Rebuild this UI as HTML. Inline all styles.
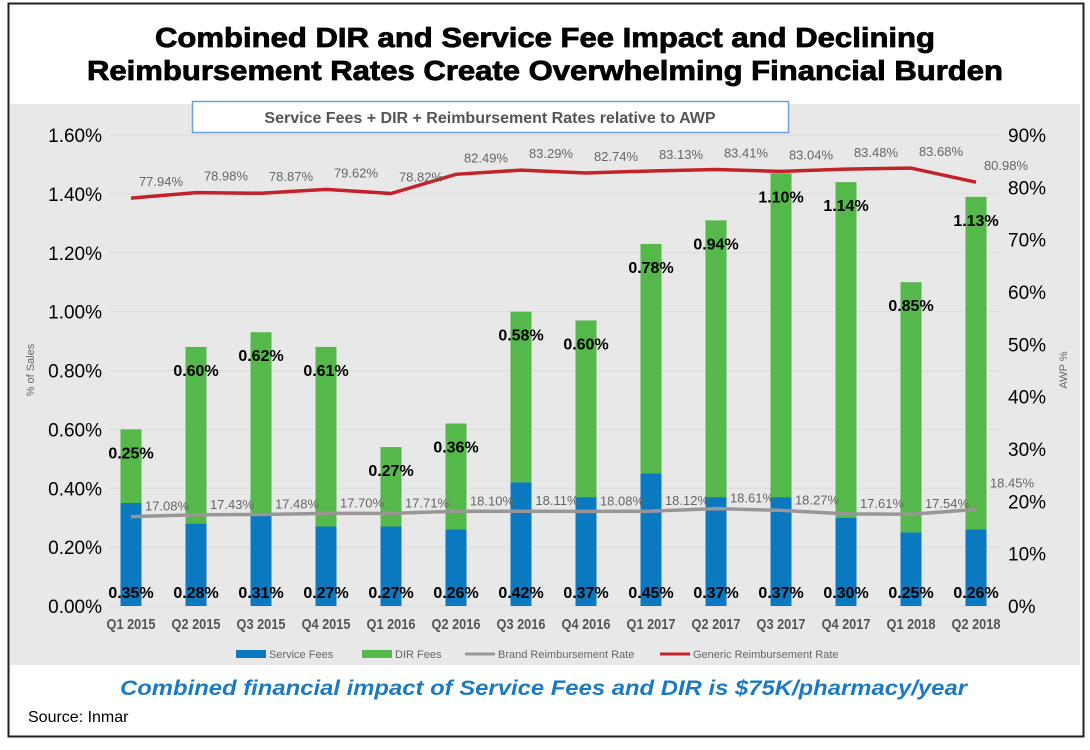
<!DOCTYPE html>
<html><head><meta charset="utf-8"><style>
body{margin:0;background:#fff;width:1090px;height:745px;overflow:hidden;font-family:"Liberation Sans",sans-serif}
</style></head><body>
<svg width="1090" height="745" id="svg" xmlns="http://www.w3.org/2000/svg">
<rect x="8.5" y="3.5" width="1075" height="733" fill="#fff" stroke="#222" stroke-width="2"/>
<text x="155" y="47" textLength="780" lengthAdjust="spacingAndGlyphs" font-size="28" font-weight="bold" stroke="#000" stroke-width="0.8">Combined DIR and Service Fee Impact and Declining</text>
<text x="87" y="80" textLength="916" lengthAdjust="spacingAndGlyphs" font-size="28" font-weight="bold" stroke="#000" stroke-width="0.8">Reimbursement Rates Create Overwhelming Financial Burden</text>
<rect x="10" y="104" width="1070" height="561" fill="#e8e8e8"/>
<rect x="192.5" y="101.5" width="596" height="31" fill="#fff" stroke="#6f9fd8" stroke-width="1.5"/>
<text x="490" y="123" text-anchor="middle" font-size="16" font-weight="bold" fill="#555">Service Fees + DIR + Reimbursement Rates relative to AWP</text>
<g id="g"></g>
<text x="120" y="695" textLength="847" lengthAdjust="spacingAndGlyphs" font-size="21" font-weight="bold" font-style="italic" fill="#1b7ac2">Combined financial impact of Service Fees and DIR is $75K/pharmacy/year</text>
<text x="28" y="722" font-size="16">Source: Inmar</text>
</svg>
<script>
const categories=["Q1 2015","Q2 2015","Q3 2015","Q4 2015","Q1 2016","Q2 2016","Q3 2016","Q4 2016","Q1 2017","Q2 2017","Q3 2017","Q4 2017","Q1 2018","Q2 2018"];
const serviceFees=[0.35,0.28,0.31,0.27,0.27,0.26,0.42,0.37,0.45,0.37,0.37,0.30,0.25,0.26];
const dirFees=[0.25,0.60,0.62,0.61,0.27,0.36,0.58,0.60,0.78,0.94,1.10,1.14,0.85,1.13];
const brandRate=[17.08,17.43,17.48,17.70,17.71,18.10,18.11,18.08,18.12,18.61,18.27,17.61,17.54,18.45];
const genericRate=[77.94,78.98,78.87,79.62,78.82,82.49,83.29,82.74,83.13,83.41,83.04,83.48,83.68,80.98];
const leftTicks=[0,0.2,0.4,0.6,0.8,1.0,1.2,1.4,1.6];
const rightTicks=[0,10,20,30,40,50,60,70,80,90];
const NS="http://www.w3.org/2000/svg",g=document.getElementById('g');
const y0=606,y1=135;
const yL=v=>y0-v/1.6*(y0-y1), yR=v=>y0-v/90*(y0-y1), x=i=>131+i*65;
function mk(t,a,txt){const e=document.createElementNS(NS,t);for(const k in a)e.setAttribute(k,a[k]);if(txt!=null)e.textContent=txt;g.appendChild(e);return e;}
leftTicks.forEach(v=>{
 const l=mk('line',{x1:110,x2:1000,y1:yL(v),y2:yL(v),stroke:'#dcdcdc'});
 
 const t=mk('text',{x:102,y:yL(v)+7,'text-anchor':'end','font-size':19},v.toFixed(2)+'%');
 
});
rightTicks.forEach(v=>{
 const t=mk('text',{x:1008,y:yR(v)+7,'font-size':19},v+'%');
 
});
let t=mk('text',{x:0,y:0,'font-size':11,fill:'#666','text-anchor':'middle',transform:'translate(34,370) rotate(-90)'},'% of Sales');

t=mk('text',{x:0,y:0,'font-size':11,fill:'#666','text-anchor':'middle',transform:'translate(1067,370) rotate(-90)'},'AWP %');

categories.forEach((c,i)=>{
 const s=serviceFees[i],d=dirFees[i],cx=x(i);
 let r=mk('rect',{x:cx-10.5,y:yL(s),width:21,height:y0-yL(s),fill:'#0a79c0'});
 
 r=mk('rect',{x:cx-10.5,y:yL(s+d),width:21,height:yL(s)-yL(s+d),fill:'#55b84a'});
 
 let l=mk('text',{x:cx,y:598,'text-anchor':'middle','font-size':16,'font-weight':'bold'},s.toFixed(2)+'%');
 
 l=mk('text',{x:cx,y:yL(s+d)+29,'text-anchor':'middle','font-size':16,'font-weight':'bold'},d.toFixed(2)+'%');
 
 l=mk('text',{x:cx,y:629,'text-anchor':'middle','font-size':15,'font-weight':'bold',fill:'#555',transform:`translate(${cx},0) scale(0.85,1) translate(${-cx},0)`},c);
 
});
let p=mk('polyline',{points:brandRate.map((v,i)=>x(i)+','+yR(v)).join(' '),fill:'none',stroke:'#9a9696','stroke-width':3.5});

p=mk('polyline',{points:genericRate.map((v,i)=>x(i)+','+yR(v)).join(' '),fill:'none',stroke:'#c4222a','stroke-width':3.5});

brandRate.forEach((v,i)=>{
 const last=i===brandRate.length-1;
 const l=mk('text',{x:x(i)+(last?36:36),y:yR(v)-(last?22:6),'text-anchor':'middle','font-size':13,fill:'#666'},v.toFixed(2)+'%');
 
});
genericRate.forEach((v,i)=>{
 const l=mk('text',{x:x(i)+30,y:yR(v)-12,'text-anchor':'middle','font-size':13,fill:'#666'},v.toFixed(2)+'%');
 
});
const legend=[["Service Fees",'#0a79c0','rect',236],["DIR Fees",'#55b84a','rect',362],["Brand Reimbursement Rate",'#9a9696','line',465],["Generic Reimbursement Rate",'#c4222a','line',660]];
legend.forEach(([n,c,k,lx])=>{
 let m=k==='rect'?mk('rect',{x:lx,y:650,width:30,height:8,fill:c}):mk('line',{x1:lx,x2:lx+30,y1:654,y2:654,stroke:c,'stroke-width':3});
 
 const l=mk('text',{x:lx+33,y:658,'font-size':11,fill:'#666'},n);
 
});
</script>
</body></html>
